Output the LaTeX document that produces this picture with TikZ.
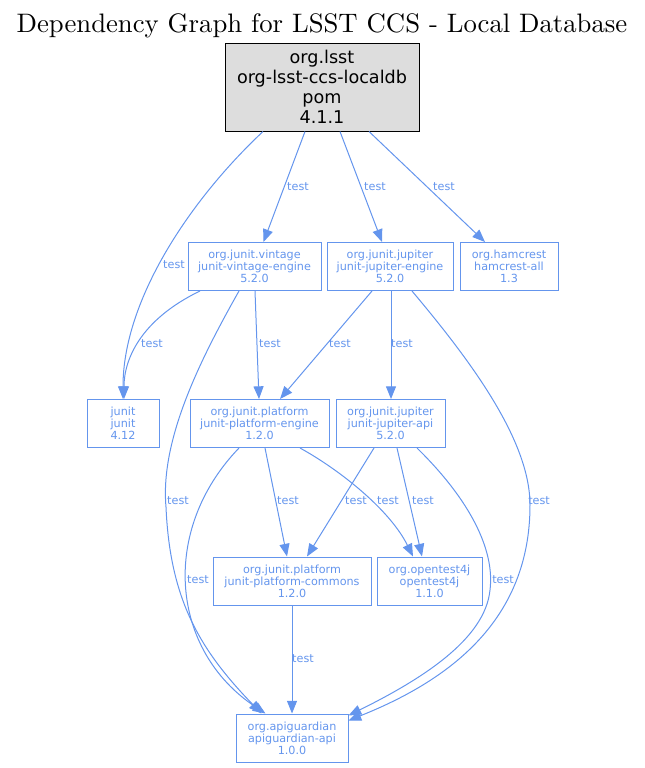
\documentclass[tikz,border=0pt]{standalone}
\usepackage{fontspec}
\newfontfamily\dv{DejaVu Sans}
\usetikzlibrary{arrows.meta,calc}
\definecolor{edgeblue}{HTML}{6495ED}
\definecolor{rootfill}{HTML}{DDDDDD}
\begin{document}
\begin{tikzpicture}[x=0.75pt,y=-0.75pt,
  dep/.style={draw=edgeblue, line width=0.75pt, text=edgeblue, inner sep=0pt,
    minimum height=36pt, align=center, font=\dv\fontsize{8.4}{9}\selectfont},
  rootbox/.style={draw=black, fill=rootfill, line width=0.75pt, inner sep=0pt,
    minimum width=145.5pt, minimum height=66pt, align=center,
    font=\dv\fontsize{13.2}{15}\selectfont},
  lbl/.style={text=edgeblue, inner sep=0pt, font=\dv\fontsize{8.4}{9}\selectfont},
  conn/.style={draw=edgeblue, line width=0.75pt, -{Triangle[length=9.5pt,width=7.5pt]}},
]
\path[use as bounding box] (0,0) rectangle (645,768);

\node[anchor=base] (title) at (322,32) {\resizebox{458pt}{!}{Dependency Graph for LSST CCS - Local Database}};

\node[rootbox] (root) at (322,87) {org.lsst\\org-lsst-ccs-localdb\\pom\\4.1.1};

\node[dep, minimum width=99.75pt] (vint) at (254.5,266.5) {org.junit.vintage\\junit-vintage-engine\\5.2.0};
\node[dep, minimum width=94.5pt] (jeng) at (390,266.5) {org.junit.jupiter\\junit-jupiter-engine\\5.2.0};
\node[dep, minimum width=73.5pt] (ham) at (509,266.5) {org.hamcrest\\hamcrest-all\\1.3};
\node[dep, minimum width=54pt] (junit) at (123,423.5) {junit\\junit\\4.12};
\node[dep, minimum width=104.25pt] (peng) at (259.5,423.5) {org.junit.platform\\junit-platform-engine\\1.2.0};
\node[dep, minimum width=81.75pt] (japi) at (390.5,423.5) {org.junit.jupiter\\junit-jupiter-api\\5.2.0};
\node[dep, minimum width=118.5pt] (pcom) at (292,581) {org.junit.platform\\junit-platform-commons\\1.2.0};
\node[dep, minimum width=78.75pt] (ot) at (429.5,581) {org.opentest4j\\opentest4j\\1.1.0};
\node[dep, minimum width=84pt] (apig) at (292,738) {org.apiguardian\\apiguardian-api\\1.0.0};

% connectors
\draw[conn] ($(root.south)+(-59,0)$) .. controls (190,200) and (123,300) .. (junit.north);
\draw[conn] ($(root.south)+(-17,0)$) -- ($(vint.north)+(9,0)$);
\draw[conn] ($(root.south)+(18,0)$) -- ($(jeng.north)+(-8,0)$);
\draw[conn] ($(root.south)+(47,0)$) -- ($(ham.north)+(-24,0)$);
\draw[conn] ($(vint.south)+(-54.5,0)$) .. controls (140,320) and (124,360) .. ($(junit.north)+(1,0)$);
\draw[conn] ($(vint.south)+(0.5,0)$) -- ($(peng.north)+(-0.5,0)$);
\draw[conn] ($(vint.south)+(-15.5,0)$) .. controls (200,360) and (160,440) .. (166,507)
  .. controls (170,600) and (200,650) .. ($(apig.north west)+(26,0)$);
\draw[conn] ($(jeng.south)+(-18,0)$) -- ($(peng.north)+(20.5,0)$);
\draw[conn] ($(jeng.south)+(1,0)$) -- ($(japi.north)+(0.5,0)$);
\draw[conn] ($(jeng.south)+(22,0)$) .. controls (470,360) and (530,440) .. (530,505)
  .. controls (530,620) and (450,680) .. ($(apig.north east)+(0,7)$);
\draw[conn] ($(peng.south)+(5.5,0)$) -- ($(pcom.north)+(-5,0)$);
\draw[conn] ($(peng.south)+(40.5,0)$) .. controls (340,470) and (390,510) .. ($(ot.north)+(-16.5,0)$);
\draw[conn] ($(peng.south)+(-20.5,0)$) .. controls (160,530) and (170,650) .. ($(apig.north west)+(30,0)$);
\draw[conn] ($(japi.south)+(-16.5,0)$) -- ($(pcom.north)+(15,0)$);
\draw[conn] ($(japi.south)+(6.5,0)$) -- ($(ot.north)+(-7.5,0)$);
\draw[conn] ($(japi.south)+(26.5,0)$) .. controls (470,500) and (495,550) .. (490,590)
  .. controls (485,640) and (420,680) .. ($(apig.north east)+(0,2)$);
\draw[conn] (pcom.south) -- (apig.north);

% edge labels
\node[lbl] (l1) at (174,265) {test};
\node[lbl] (l2) at (298,187) {test};
\node[lbl] (l3) at (375,187) {test};
\node[lbl] (l4) at (444,187) {test};
\node[lbl] (l5) at (152,344) {test};
\node[lbl] (l6) at (270,344) {test};
\node[lbl] (l7) at (178,501) {test};
\node[lbl] (l8) at (340,344) {test};
\node[lbl] (l9) at (402,344) {test};
\node[lbl] (l10) at (539,501) {test};
\node[lbl] (l11) at (288,501) {test};
\node[lbl] (l12) at (388,501) {test};
\node[lbl] (l13) at (198,580) {test};
\node[lbl] (l14) at (356,501) {test};
\node[lbl] (l15) at (423,501) {test};
\node[lbl] (l16) at (503,580) {test};
\node[lbl] (l17) at (303,659) {test};
\end{tikzpicture}
\end{document}
